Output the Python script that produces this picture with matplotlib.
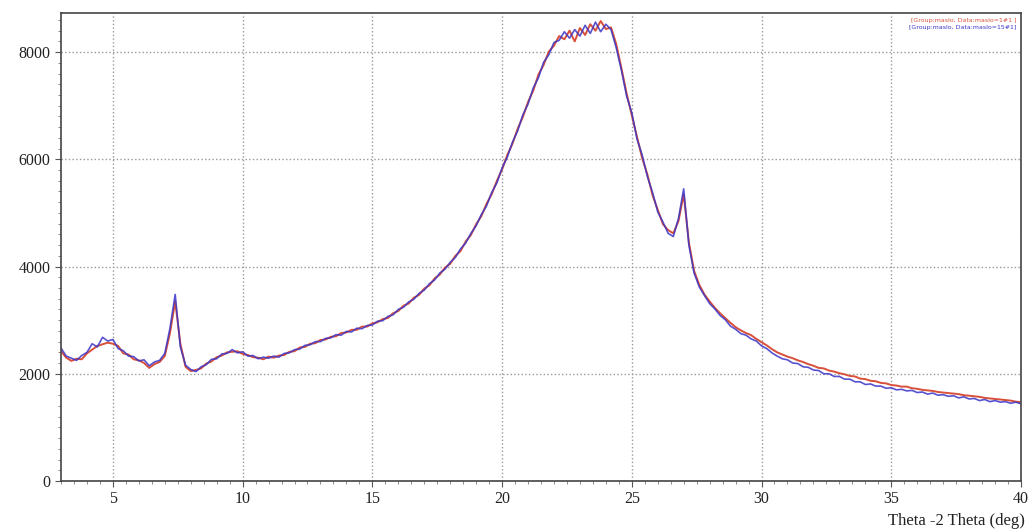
import numpy as np
import matplotlib.pyplot as plt
from matplotlib.ticker import MultipleLocator

# Angulo 2-theta (paso 0.2 grados)
theta = np.round(np.arange(3.0, 40.0001, 0.2), 1)

# Intensidad muestra 1#1 (rojo)
maslo_1 = [
    2420, 2300, 2240, 2280, 2270, 2380, 2450, 2520, 2550, 2580,
    2560, 2520, 2380, 2360, 2270, 2250, 2200, 2110, 2180, 2220,
    2330, 2760, 3350, 2560, 2130, 2050, 2070, 2100, 2190, 2230,
    2310, 2340, 2400, 2410, 2420, 2370, 2350, 2310, 2300, 2270,
    2320, 2300, 2340, 2350, 2410, 2420, 2490, 2500, 2560, 2570,
    2630, 2640, 2690, 2700, 2760, 2770, 2820, 2820, 2880, 2880,
    2940, 2960, 3020, 3040, 3130, 3170, 3270, 3310, 3420, 3470,
    3590, 3650, 3780, 3850, 3980, 4050, 4200, 4290, 4470, 4590,
    4790, 4940, 5170, 5350, 5600, 5810, 6080, 6290, 6570, 6790,
    7070, 7280, 7580, 7760, 8010, 8120, 8300, 8240, 8400, 8200,
    8450, 8320, 8520, 8400, 8580, 8430, 8460, 8150, 7700, 7230,
    6820, 6420, 6020, 5720, 5330, 5060, 4790, 4680, 4620, 4850,
    5350, 4450, 3920, 3660, 3480, 3350, 3230, 3130, 3040, 2950,
    2870, 2810, 2760, 2720, 2650, 2590, 2530, 2460, 2400, 2360,
    2320, 2290, 2250, 2220, 2180, 2150, 2110, 2100, 2060, 2040,
    2010, 1990, 1960, 1950, 1910, 1900, 1870, 1860, 1830, 1820,
    1790, 1780, 1760, 1760, 1730, 1720, 1700, 1690, 1680, 1660,
    1650, 1640, 1630, 1620, 1600, 1590, 1580, 1570, 1550, 1540,
    1530, 1520, 1510, 1500, 1480, 1470,
]

# Intensidad muestra 15#1 (azul)
maslo_15 = [
    2480, 2330, 2290, 2250, 2340, 2400, 2560, 2500, 2680, 2610,
    2640, 2470, 2430, 2330, 2320, 2240, 2260, 2150, 2220, 2250,
    2380, 2850, 3480, 2500, 2160, 2080, 2040, 2130, 2170, 2270,
    2280, 2370, 2380, 2450, 2390, 2410, 2330, 2340, 2280, 2310,
    2290, 2330, 2310, 2380, 2390, 2450, 2460, 2530, 2540, 2600,
    2600, 2660, 2670, 2730, 2720, 2790, 2780, 2850, 2840, 2900,
    2910, 2980, 2990, 3070, 3100, 3200, 3240, 3340, 3390, 3500,
    3560, 3680, 3750, 3880, 3950, 4080, 4170, 4330, 4440, 4620,
    4760, 4970, 5130, 5380, 5560, 5840, 6040, 6320, 6530, 6830,
    7030, 7330, 7520, 7810, 7950, 8180, 8220, 8380, 8260, 8420,
    8300, 8500, 8350, 8560, 8380, 8520, 8420, 8080, 7660, 7180,
    6870, 6380, 6080, 5680, 5380, 5020, 4830, 4620, 4560, 4900,
    5450, 4400, 3880, 3620, 3460, 3310, 3210, 3090, 3010, 2890,
    2830, 2750, 2720, 2650, 2610, 2520, 2470, 2390, 2330, 2280,
    2260, 2200, 2190, 2130, 2120, 2070, 2060, 2000, 2000, 1950,
    1950, 1900, 1900, 1850, 1850, 1800, 1810, 1770, 1770, 1730,
    1740, 1700, 1710, 1680, 1690, 1650, 1660, 1620, 1640, 1600,
    1610, 1580, 1590, 1550, 1570, 1530, 1540, 1500, 1520, 1480,
    1500, 1470, 1480, 1450, 1470, 1440,
]

x_ticks = [5, 10, 15, 20, 25, 30, 35, 40]
y_ticks = [0, 2000, 4000, 6000, 8000]

plt.rcParams['font.family'] = ['Liberation Serif', 'DejaVu Serif']

fig = plt.figure(figsize=(10.29, 5.32), dpi=100)
ax = fig.add_axes([0.0593, 0.0959, 0.9329, 0.8797])

ax.plot(theta, maslo_1, color='#d9503a', linewidth=1.4)
ax.plot(theta, maslo_15, color='#3a35c8', linewidth=1.2, alpha=0.85)

ax.set_xlim(3, 40)
ax.set_ylim(0, 8730)
ax.set_xticks(x_ticks)
ax.set_yticks(y_ticks)
ax.xaxis.set_minor_locator(MultipleLocator(0.5))
ax.yaxis.set_minor_locator(MultipleLocator(200))
ax.tick_params(which='major', direction='out', length=4, labelsize=11.5,
               color='#555555', labelcolor='#222222')
ax.tick_params(which='minor', direction='out', length=2, color='#777777')
ax.grid(True, which='major', color='#999999', linestyle=':', linewidth=1.0)
for s in ax.spines.values():
    s.set_color('#444444')
    s.set_linewidth(1.2)

# Leyenda como texto
ax.text(0.995, 0.99, '[Group:maslo, Data:maslo=1#1 ]', transform=ax.transAxes,
        ha='right', va='top', fontsize=4.5, color='#d9503a',
        family=['DejaVu Sans'])
ax.text(0.995, 0.975, '[Group:maslo, Data:maslo=15#1]', transform=ax.transAxes,
        ha='right', va='top', fontsize=4.5, color='#3a35c8',
        family=['DejaVu Sans'])

fig.text(0.996, 0.005, 'Theta -2 Theta (deg)', ha='right', va='bottom',
         fontsize=12, color='#222222')

fig.savefig('out.png', dpi=100)
